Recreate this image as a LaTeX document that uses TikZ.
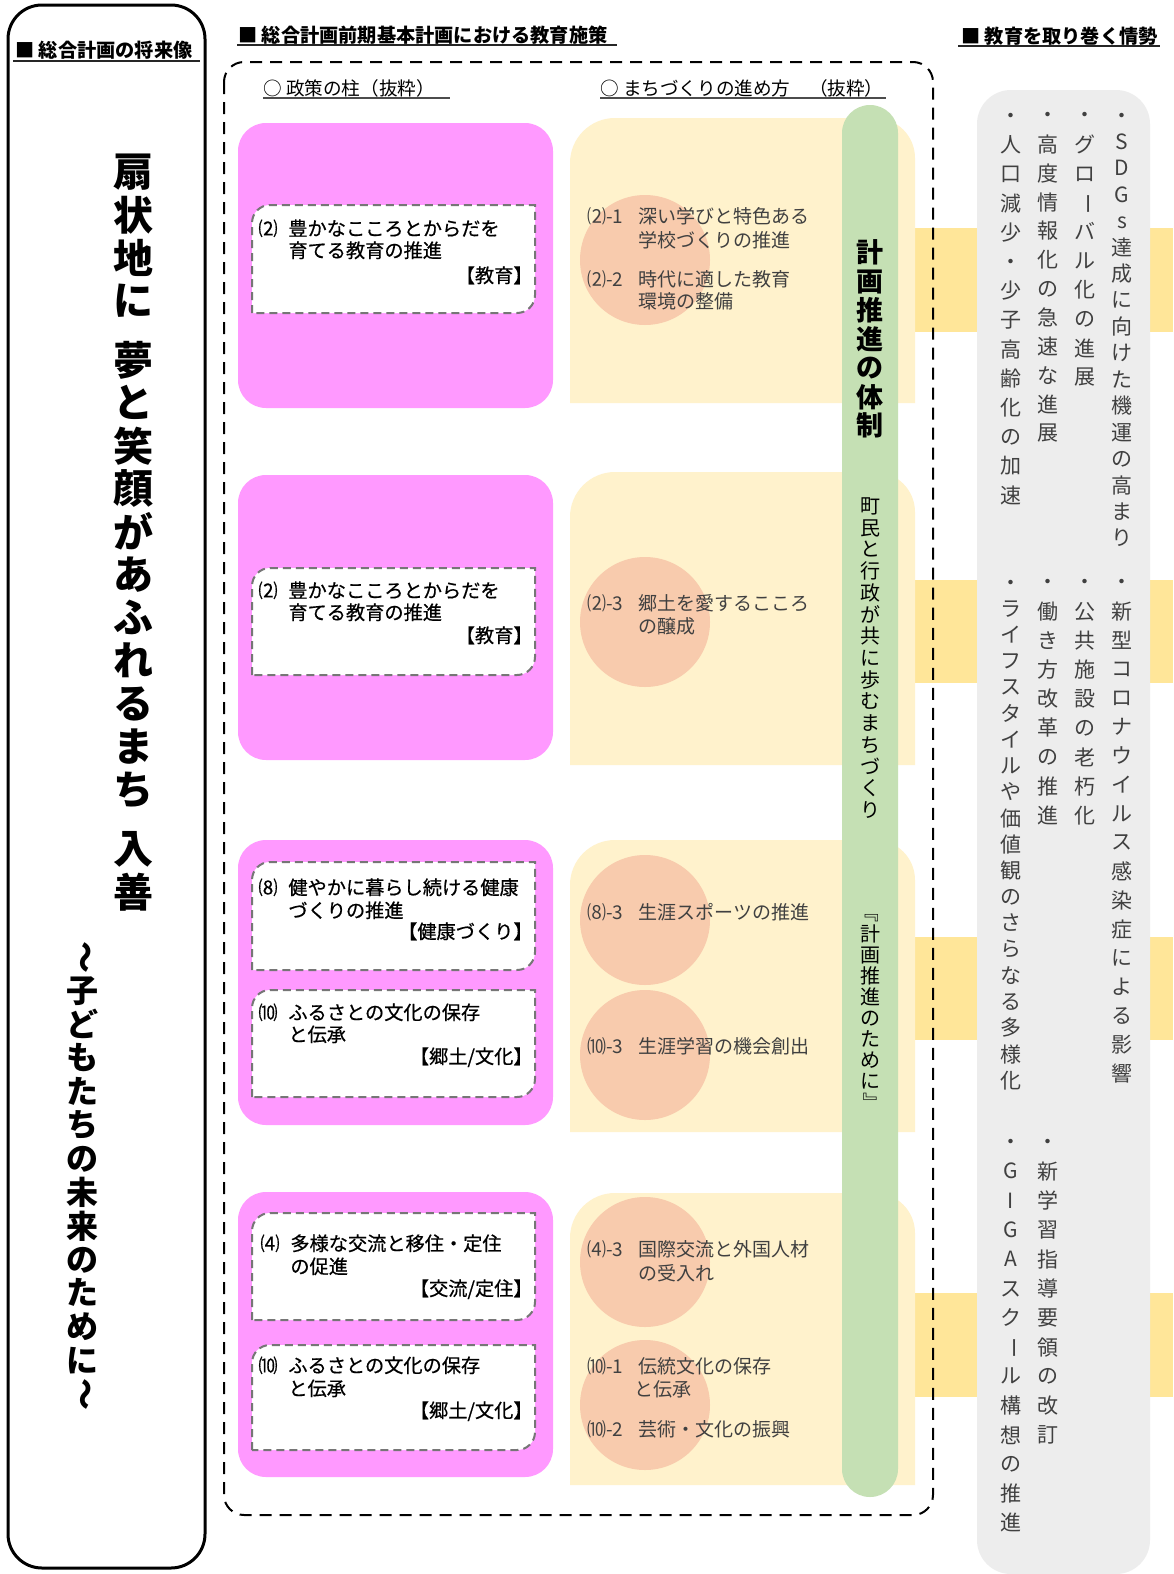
\documentclass[tikz,border=0pt]{standalone}
\usepackage{fontspec}
\usepackage{graphicx}
\setmainfont{Noto Sans CJK JP}
\newfontfamily\jpmed[FakeBold=0.6]{Noto Sans CJK JP}
\definecolor{pinkbox}{RGB}{255,153,255}
\definecolor{beige}{RGB}{255,242,204}
\definecolor{salmon}{RGB}{248,203,173}
\definecolor{greenbar}{RGB}{197,224,180}
\definecolor{gold}{RGB}{255,230,153}
\definecolor{grayboxc}{RGB}{237,237,237}
\definecolor{txtgray}{RGB}{64,64,64}
\definecolor{dashgray}{RGB}{118,118,118}
\ExplSyntaxOn
\cs_new_eq:NN \mapinline \tl_map_inline:nn
\ExplSyntaxOff
\newcommand\fsz[1]{\fontsize{#1}{#1}\selectfont}
\newcommand\rotch[1]{\rotatebox[origin=c]{-90}{#1}}
\newcommand\vstack[2]{\vbox{\offinterlineskip\mapinline{#2}{\hbox to 1.3em{\hss\vbox to #1{\vss\hbox{##1\vphantom{国}}\vss}\hss}}}}
\begin{document}
\begin{tikzpicture}[x=0.5pt,y=-0.5pt,
  line/.style={inner sep=0pt, text height=0.88em, text depth=0.12em},
  hdr/.style={line, anchor=west, font=\bfseries\fsz{9.6pt}},
  sub/.style={line, anchor=west, font=\fsz{9.3pt}},
  ptxt/.style={line, anchor=west, font=\jpmed\fsz{9.6pt}},
  ptag/.style={line, anchor=east, font=\jpmed\fsz{9.6pt}},
  rtxt/.style={line, anchor=west, font=\fsz{9.5pt}, text=txtgray},
  vcol/.style={anchor=north, inner sep=0pt},
  gcol/.style={anchor=north, inner sep=0pt, font=\fsz{10.5pt}, text=txtgray},
  ulhead/.style={line width=1pt, black!85},
  ulsub/.style={line width=0.7pt, black!70}]
\useasboundingbox (0,0) rectangle (1173,1574);
\fill[white] (0,0) rectangle (1173,1574);

% left frame
\draw[line width=1.5pt, rounded corners=17pt] (8,5) rectangle (205,1568);

% pink boxes
\foreach \ya/\yb in {123/408, 475/760, 840/1125, 1192/1477}
  \fill[pinkbox, rounded corners=14pt] (238,\ya) rectangle (553,\yb);
% inner white dashed boxes
\foreach \ya/\yb in {205/313, 568/675, 862/970, 990/1097, 1213/1320, 1345/1450}
  \filldraw[fill=white, draw=dashgray, line width=1pt, dash pattern=on 4pt off 2.5pt]
    (252,\yb) -- (252,\ya+18) arc[start angle=180,end angle=270,radius=18]
    -- (535,\ya) -- (535,\yb-18) arc[start angle=0,end angle=90,radius=18] -- cycle;

% gold bands
\foreach \ya/\yb in {228/332, 580/683, 937/1040, 1293/1397}
  \fill[gold] (905,\ya) rectangle (1173,\yb);
% gray box
\fill[grayboxc, rounded corners=17pt] (977,90) rectangle (1150,1574);

% beige boxes
\foreach \ya/\yb in {118/403, 472/765, 840/1132, 1193/1485}
  \fill[beige] (570,\yb) -- (570,\ya+45) arc[start angle=180,end angle=270,radius=45]
    -- (875,\ya) arc[start angle=270,end angle=360,radius=40] -- (915,\yb) -- cycle;
% salmon circles
\foreach \cy in {260, 622, 920, 1055, 1262, 1405}
  \fill[salmon] (645,\cy) ellipse [x radius=65, y radius=65];
% green bar
\fill[greenbar, rounded corners=14pt] (842,105) rectangle (898,1497);
% dashed frame
\draw[line width=1pt, dash pattern=on 6pt off 4pt, rounded corners=10pt] (224,62) rectangle (933,1515);

% headings
\node[hdr] (h1) at (15,50) {■ 総合計画の将来像};
\draw[ulhead] (13,61) -- (200,61);
\node[hdr] (h2) at (238,35) {■ 総合計画前期基本計画における教育施策};
\draw[ulhead] (237,45) -- (617,45);
\node[hdr] (h3) at (961,36) {■ 教育を取り巻く情勢};
\draw[ulhead] (958,46) -- (1160,46);
\node[sub] (s1) at (263,88) {○ 政策の柱（抜粋）};
\draw[ulsub] (263,98) -- (450,98);
\node[sub] (s2) at (600,88) {○ まちづくりの進め方　（抜粋）};
\draw[ulsub] (600,98) -- (886,98);

% title
\node[vcol, font=\bfseries\fsz{20pt}] (ttl1) at (133,150) {\vstack{21.5pt}{扇状地に}};
\node[vcol, font=\bfseries\fsz{20pt}] (ttl2) at (133,338) {\vstack{21.5pt}{夢と笑顔があふれるまち}};
\node[vcol, font=\bfseries\fsz{20pt}] (ttl3) at (133,827) {\vstack{21.5pt}{入善}};
\node[vcol, font=\bfseries\fsz{16pt}] (subt) at (82,940) {\vstack{16.8pt}{{\rotch{～}}子どもたちの未来のために{\rotch{～}}}};

% pink texts
\node[ptxt] (n1) at (258,228) {⑵};
\node[ptxt] (t1a) at (288,228) {豊かなこころとからだを};
\node[ptxt] (t1b) at (288,250) {育てる教育の推進};
\node[ptag] (g1) at (533,275) {【教育】};
\node[ptxt] (n2) at (258,590) {⑵};
\node[ptxt] (t2a) at (288,590) {豊かなこころとからだを};
\node[ptxt] (t2b) at (288,612) {育てる教育の推進};
\node[ptag] (g2) at (533,635) {【教育】};
\node[ptxt] (n3) at (258,887) {⑻};
\node[ptxt] (t3a) at (288,887) {健やかに暮らし続ける健康};
\node[ptxt] (t3b) at (288,910) {づくりの推進};
\node[ptag] (g3) at (533,931) {【健康づくり】};
\node[ptxt] (n4) at (258,1012) {⑽};
\node[ptxt] (t4a) at (288,1012) {ふるさとの文化の保存};
\node[ptxt] (t4b) at (288,1034) {と伝承};
\node[ptag] (g4) at (533,1056) {【郷土/文化】};
\node[ptxt] (n5) at (260,1243) {⑷};
\node[ptxt] (t5a) at (290,1243) {多様な交流と移住・定住};
\node[ptxt] (t5b) at (290,1266) {の促進};
\node[ptag] (g5) at (533,1288) {【交流/定住】};
\node[ptxt] (n6) at (258,1365) {⑽};
\node[ptxt] (t6a) at (288,1365) {ふるさとの文化の保存};
\node[ptxt] (t6b) at (288,1388) {と伝承};
\node[ptag] (g6) at (533,1410) {【郷土/文化】};

% right-hand policy texts
\node[rtxt] (r1n) at (587,216) {⑵-1};
\node[rtxt] (r1a) at (638,216) {深い学びと特色ある};
\node[rtxt] (r1b) at (638,240) {学校づくりの推進};
\node[rtxt] (r2n) at (587,279) {⑵-2};
\node[rtxt] (r2a) at (638,279) {時代に適した教育};
\node[rtxt] (r2b) at (638,301) {環境の整備};
\node[rtxt] (r3n) at (587,603) {⑵-3};
\node[rtxt] (r3a) at (638,603) {郷土を愛するこころ};
\node[rtxt] (r3b) at (638,626) {の醸成};
\node[rtxt] (r4n) at (587,912) {⑻-3};
\node[rtxt] (r4a) at (638,912) {生涯スポーツの推進};
\node[rtxt] (r5n) at (587,1046) {⑽-3};
\node[rtxt] (r5a) at (638,1046) {生涯学習の機会創出};
\node[rtxt] (r6n) at (587,1249) {⑷-3};
\node[rtxt] (r6a) at (638,1249) {国際交流と外国人材};
\node[rtxt] (r6b) at (638,1273) {の受入れ};
\node[rtxt] (r7n) at (587,1366) {⑽-1};
\node[rtxt] (r7a) at (638,1366) {伝統文化の保存};
\node[rtxt] (r7b) at (634,1389) {と伝承};
\node[rtxt] (r8n) at (587,1429) {⑽-2};
\node[rtxt] (r8a) at (638,1429) {芸術・文化の振興};

% green bar texts
\node[vcol, font=\bfseries\fsz{13.5pt}] (gb1) at (870,238) {\vstack{14.4pt}{計画推進の体制}};
\node[vcol, font=\fsz{10pt}] (gb2) at (870,495) {\vstack{10.85pt}{町民と行政が共に歩むまちづくり}};
\node[vcol, font=\fsz{10pt}] (gb3) at (870,902) {\vstack{10.5pt}{{\rotch{『}}計画推進のために{\rotch{』}}}};

% gray box columns
\node[gcol] (c11) at (1122,102) {\vstack{13.2pt}{・SDGs達成に向けた機運の高まり}};
\node[gcol] (c12) at (1085,100.5) {\vstack{14.55pt}{・グロ{\rotch{ー}}バル化の進展}};
\node[gcol] (c13) at (1048,100.5) {\vstack{14.45pt}{・高度情報化の急速な進展}};
\node[gcol] (c14) at (1011,100.5) {\vstack{14.6pt}{・人口減少・少子高齢化の加速}};
\node[gcol] (c21) at (1122,567.5) {\vstack{14.45pt}{・新型コロナウイルス感染症による影響}};
\node[gcol] (c22) at (1085,567.5) {\vstack{14.55pt}{・公共施設の老朽化}};
\node[gcol] (c23) at (1048,567.5) {\vstack{14.55pt}{・働き方改革の推進}};
\node[gcol] (c24) at (1011,569) {\vstack{13.1pt}{・ライフスタイルや価値観のさらなる多様化}};
\node[gcol] (c31) at (1048,1127) {\vstack{14.65pt}{・新学習指導要領の改訂}};
\node[gcol] (c32) at (1011,1127) {\vstack{14.65pt}{・GIGAスク{\rotch{ー}}ル構想の推進}};
\end{tikzpicture}
\end{document}
